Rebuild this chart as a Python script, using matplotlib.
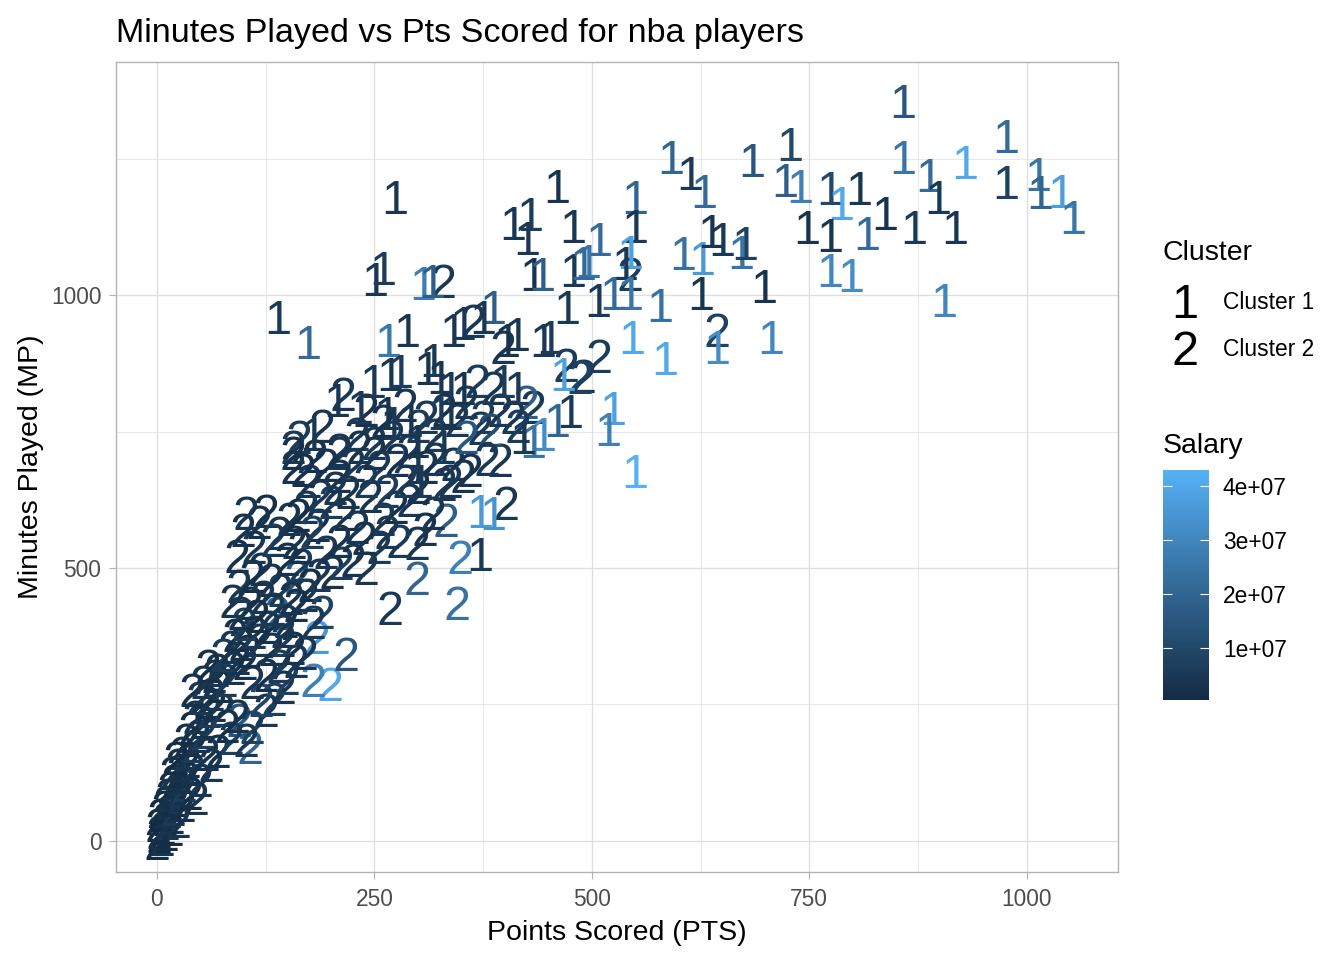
import matplotlib.pyplot as plt
import matplotlib.transforms as mtransforms
from matplotlib.colors import LinearSegmentedColormap, Normalize
from matplotlib.cm import ScalarMappable

plt.rcParams['font.family'] = ['Liberation Sans', 'DejaVu Sans']

# cluster 1 players: points, minutes, salary (millions)
pts1 = [858, 591, 613, 629, 684, 728, 722, 739, 774, 786,
        807, 858, 888, 929, 976, 976, 1013, 1015, 1039, 1053,
        898, 837, 870, 917, 816, 774, 747, 774, 798, 905,
        698, 625, 706, 644, 549, 549, 544, 508, 496, 605,
        626, 637, 649, 671, 676, 538, 544, 507, 524, 578,
        546, 584, 524, 518, 549, 274, 139, 174, 251, 260,
        306, 316, 266, 287, 409, 429, 460, 425, 478, 432,
        443, 478, 490, 471, 452, 467, 475, 460, 444, 432,
        421, 414, 402, 386, 375, 352, 340, 444, 248, 268,
        279, 310, 317, 325, 337, 352, 398, 414, 207, 233,
        264, 291, 271, 325, 337, 179, 299, 329, 371, 386,
        371, 299, 302]
mp1 = [1357, 1253, 1225, 1192, 1249, 1278, 1211, 1201, 1196, 1170,
       1196, 1253, 1220, 1244, 1293, 1207, 1223, 1189, 1192, 1143,
       1180, 1152, 1125, 1125, 1114, 1110, 1125, 1046, 1037, 991,
       1018, 1004, 923, 905, 1180, 1128, 1079, 1104, 1064, 1077,
       1068, 1119, 1104, 1079, 1097, 1060, 1005, 991, 1004, 982,
       923, 885, 793, 756, 679, 1180, 960, 914, 1031, 1051,
       1022, 1027, 918, 936, 1132, 1150, 1201, 1106, 1128, 1040,
       1040, 1046, 1059, 978, 923, 857, 789, 771, 747, 734,
       740, 930, 918, 978, 960, 949, 936, 918, 844, 857,
       862, 868, 881, 850, 831, 831, 844, 831, 808, 795,
       784, 771, 766, 784, 784, 747, 734, 722, 606, 601,
       527, 685, 661]
sal1 = [15, 20, 5, 22, 15, 10, 18, 28, 10, 40,
        4, 25, 22, 40, 22, 8, 25, 20, 37, 25,
        5, 3, 5, 4, 22, 4, 3, 30, 32, 30,
        3, 4, 30, 32, 20, 5, 38, 22, 25, 24,
        36, 4, 5, 25, 8, 5, 25, 5, 22, 24,
        40, 40, 38, 28, 43, 4, 5, 22, 4, 6,
        28, 18, 26, 4, 4, 6, 3, 5, 4, 3,
        18, 5, 22, 5, 6, 38, 5, 20, 32, 25,
        5, 4, 3, 18, 4, 5, 4, 5, 5, 4,
        6, 3, 5, 4, 5, 3, 6, 5, 4, 5,
        3, 4, 5, 6, 4, 4, 4, 5, 36, 34,
        5, 4, 5]

# cluster 2 players
pts2 = [644, 508, 490, 544, 329, 486, 471, 394, 432, 425,
        363, 398, 368, 386, 214, 310, 345, 375, 410, 371,
        383, 164, 156, 230, 210, 250, 320, 340, 337, 356,
        402, 348, 345, 268, 299, 299, 279, 333, 317, 199,
        179, 184, 218, 107, 95, 161, 138,
        190, 240, 270, 285, 300, 330, 355, 395, 415, 260,
        0, 2, 3, 1, 6, 7, 9, 4, 10, 12,
        14, 8, 17, 11, 16, 19, 13, 22, 24, 15,
        27, 20, 30, 31, 18, 34, 45, 38, 50, 26,
        24, 36, 29, 41, 22, 43, 33, 47, 39, 54,
        58, 62, 70, 85, 52, 44, 60, 57, 48, 66,
        75, 41, 63, 72, 110, 103, 125, 135, 145, 120,
        92, 81,
        53, 66, 69, 78, 59, 88, 93, 76, 101, 85,
        150, 160, 110, 125, 140, 97, 105, 118, 131, 112,
        90, 145, 156, 170, 128, 100,
        87, 107, 122, 96, 115, 134, 148, 160, 142, 131,
        171, 176, 94, 154, 190, 145, 120, 109, 186, 201,
        166, 150, 212, 226, 240, 180,
        141, 165, 195, 210, 255, 99, 103, 126, 112, 118,
        133, 92, 152, 171, 185, 200, 216, 230, 245, 260,
        275, 290, 220, 158, 178, 238, 265, 308, 188, 162,
        156, 156, 210, 233, 256, 276, 175, 195, 240, 300,
        320, 360, 265, 210, 182, 225, 250, 285, 310, 330,
        352, 380, 290, 168, 205]
mp2 = [936, 890, 853, 1040, 1027, 850, 872, 698, 795, 804,
       954, 905, 844, 831, 820, 777, 771, 777, 777, 758,
       753, 740, 722, 747, 716, 730, 745, 692, 661, 740,
       619, 520, 436, 427, 483, 546, 551, 588, 601, 289,
       295, 374, 344, 172, 222, 484, 418,
       760, 790, 740, 800, 760, 790, 805, 790, 760, 770,
       -4, 9, 17, 30, 5, 24, 40, 48, 14, 33,
       55, 63, 44, 72, 22, 60, 85, 76, 37, 98,
       92, 110, 66, 104, 126, 118, 80, 88, 112, 128,
       140, 147, 162, 133, 152, 175, 186, 193, 208, 200,
       160, 140, 165, 190, 218, 228, 238, 255, 262, 250,
       240, 277, 270, 285, 210, 185, 240, 260, 282, 258,
       230, 212,
       292, 302, 313, 296, 322, 318, 335, 342, 327, 356,
       300, 330, 292, 305, 322, 362, 348, 368, 352, 384,
       378, 368, 355, 345, 392, 398,
       441, 436, 447, 418, 412, 426, 404, 432, 461, 478,
       452, 470, 468, 445, 420, 386, 498, 486, 488, 494,
       506, 518, 510, 515, 500, 402,
       564, 540, 530, 550, 540, 570, 601, 606, 540, 585,
       552, 522, 590, 612, 580, 622, 600, 575, 632, 590,
       612, 626, 640, 548, 566, 556, 566, 572, 633, 598,
       685, 711, 711, 722, 685, 698, 660, 690, 660, 650,
       700, 680, 642, 670, 705, 690, 712, 660, 685, 655,
       670, 700, 715, 680, 648]
sal2 = [8, 6, 5, 6, 5, 8, 6, 4, 5, 18,
        5, 4, 6, 4, 5, 5, 5, 6, 4, 5,
        12, 6, 5, 5, 4, 5, 6, 4, 5, 15,
        4, 28, 24, 5, 20, 4, 5, 18, 4, 40,
        28, 36, 15, 20, 15, 15, 18,
        4, 3, 5, 4, 6, 3, 5, 4, 6, 2.5,
        1.2, 0.5, 2, 0.9, 3, 1.5, 2.2, 0.3, 1.8, 4,
        2.5, 1.1, 3.2, 2, 1.4, 5, 2.8, 1.6, 3.5, 2.1,
        4.2, 1.9, 2.6, 6, 3, 2.4, 3.8, 1.7, 4.5, 2.3,
        3.1, 2, 4.4, 2.7, 1.3, 5.5, 2.2, 3.6, 1.8, 6.5,
        3, 4, 2.5, 7, 2.9, 3.4, 5.2, 2.1, 4.8, 3.3,
        6, 2.6, 3.9, 1.9, 8, 5, 4.2, 6.8, 3.5, 9,
        3.7, 2.4,
        4.1, 2.8, 3.3, 5.6, 2.2, 4.6, 3, 6.2, 2.5, 3.9,
        7.5, 5, 4.3, 2.9, 6.1, 3.6, 2.3, 5.1, 3.2, 4.7,
        2.6, 5.8, 3.1, 4, 2.4, 6.4,
        3.4, 2.7, 4.9, 3.8, 2.1, 5.3, 3.7, 2.8, 6, 3.5,
        4.4, 2.2, 5, 3.3, 8.5, 4.1, 3, 2.6, 4.8, 3.2,
        5.7, 2.9, 6.6, 3.6, 4.3, 5.5,
        3.8, 2.5, 4.6, 3.1, 5.4, 2.7, 3.9, 2.3, 4.4, 3.2,
        5.9, 2.8, 3.6, 4.7, 2.4, 6.3, 3, 4.2, 3.5, 5.1,
        2.6, 4.5, 3.7, 3.4, 6.9, 2.9, 4, 3.3, 5, 2.2,
        3.5, 2.6, 4.1, 3, 5.3, 2.7, 4.6, 3.2, 5.8, 2.9,
        4.4, 3.1, 6, 3.6, 2.4, 4.9, 3.3, 5.5, 2.8, 4.7,
        3.4, 5.2, 3.9, 2.5, 4.3]

cluster_labels = ['Cluster 1', 'Cluster 2']
salary_ticks = [10, 20, 30, 40]
salary_tick_labels = ['1e+07', '2e+07', '3e+07', '4e+07']

W, H = 1344, 960
fig = plt.figure(figsize=(W / 100, H / 100), dpi=100)
ax = fig.add_axes([116 / W, 1 - 872 / H, (1118 - 116) / W, (872 - 62) / H])

cmap = LinearSegmentedColormap.from_list('salary', ['#132B43', '#336A98', '#56B1F7'])
norm = Normalize(min(sal1 + sal2), max(sal1 + sal2))

text_size = 35
# put the middle of the digit on the data point
shift = mtransforms.ScaledTranslation(0, -0.716 * text_size / 72 / 2, fig.dpi_scale_trans)
tr = ax.transData + shift
for xs, ys, ss, lab in [(pts2, mp2, sal2, '2'), (pts1, mp1, sal1, '1')]:
    for x, y, s in zip(xs, ys, ss):
        ax.text(x, y, lab, transform=tr, ha='center', va='baseline',
                fontsize=text_size, color=cmap(norm(s)), clip_on=True)

ax.set_xlim(-47, 1105)
ax.set_ylim(-57, 1427)
ax.set_xticks([0, 250, 500, 750, 1000])
ax.set_xticks([125, 375, 625, 875], minor=True)
ax.set_yticks([0, 500, 1000])
ax.set_yticks([250, 750, 1250], minor=True)
ax.grid(which='major', color='#DEDEDE', linewidth=0.9)
ax.grid(which='minor', color='#DEDEDE', linewidth=0.5)
ax.set_axisbelow(True)
for sp in ax.spines.values():
    sp.set_color('#B3B3B3')
    sp.set_linewidth(1.0)
ax.tick_params(which='major', length=5, width=0.8, color='#B3B3B3',
               labelsize=16.4, labelcolor='#4D4D4D')
ax.tick_params(axis='x', pad=6.5)
ax.tick_params(axis='y', pad=5.5)
ax.tick_params(which='minor', length=0)

ax.set_xlabel('Points Scored (PTS)', fontsize=20.5)
ax.set_ylabel('Minutes Played (MP)', fontsize=20.5)
ax.xaxis.set_label_coords(0.5, (872 - 919.5) / 810)
ax.yaxis.set_label_coords((44 - 116) / 1002, 0.5)
ax.set_title('Minutes Played vs Pts Scored for nba players', loc='left',
             fontsize=24.6, pad=14.3)


def fx(x):
    return x / W


def fy(y):
    return 1 - y / H


# shape legend
fig.text(fx(1163), fy(260), 'Cluster', fontsize=20.5, va='baseline')
for i, (lab, name) in enumerate(zip(['1', '2'], cluster_labels)):
    yc = 301 + 47 * i
    fig.text(fx(1185), fy(yc + 17.4), lab, fontsize=text_size, ha='center', va='baseline')
    fig.text(fx(1223), fy(yc + 8.2), name, fontsize=16.4, va='baseline')

# colour legend
fig.text(fx(1163), fy(453), 'Salary', fontsize=20.5, va='baseline')
cax = fig.add_axes([fx(1163), fy(700), 46 / W, 230 / H])
cb = fig.colorbar(ScalarMappable(norm=norm, cmap=cmap), cax=cax)
cb.outline.set_visible(False)
cb.set_ticks(salary_ticks)
cb.set_ticklabels(salary_tick_labels)
cax.yaxis.set_ticks_position('both')
cax.tick_params(which='major', direction='in', length=6.5, width=0.8, color='white',
                labelsize=16.4, labelcolor='black', labelleft=False, labelright=True, pad=10)
cax.tick_params(which='minor', length=0)

fig.savefig('out.png', dpi=100, facecolor='white')
